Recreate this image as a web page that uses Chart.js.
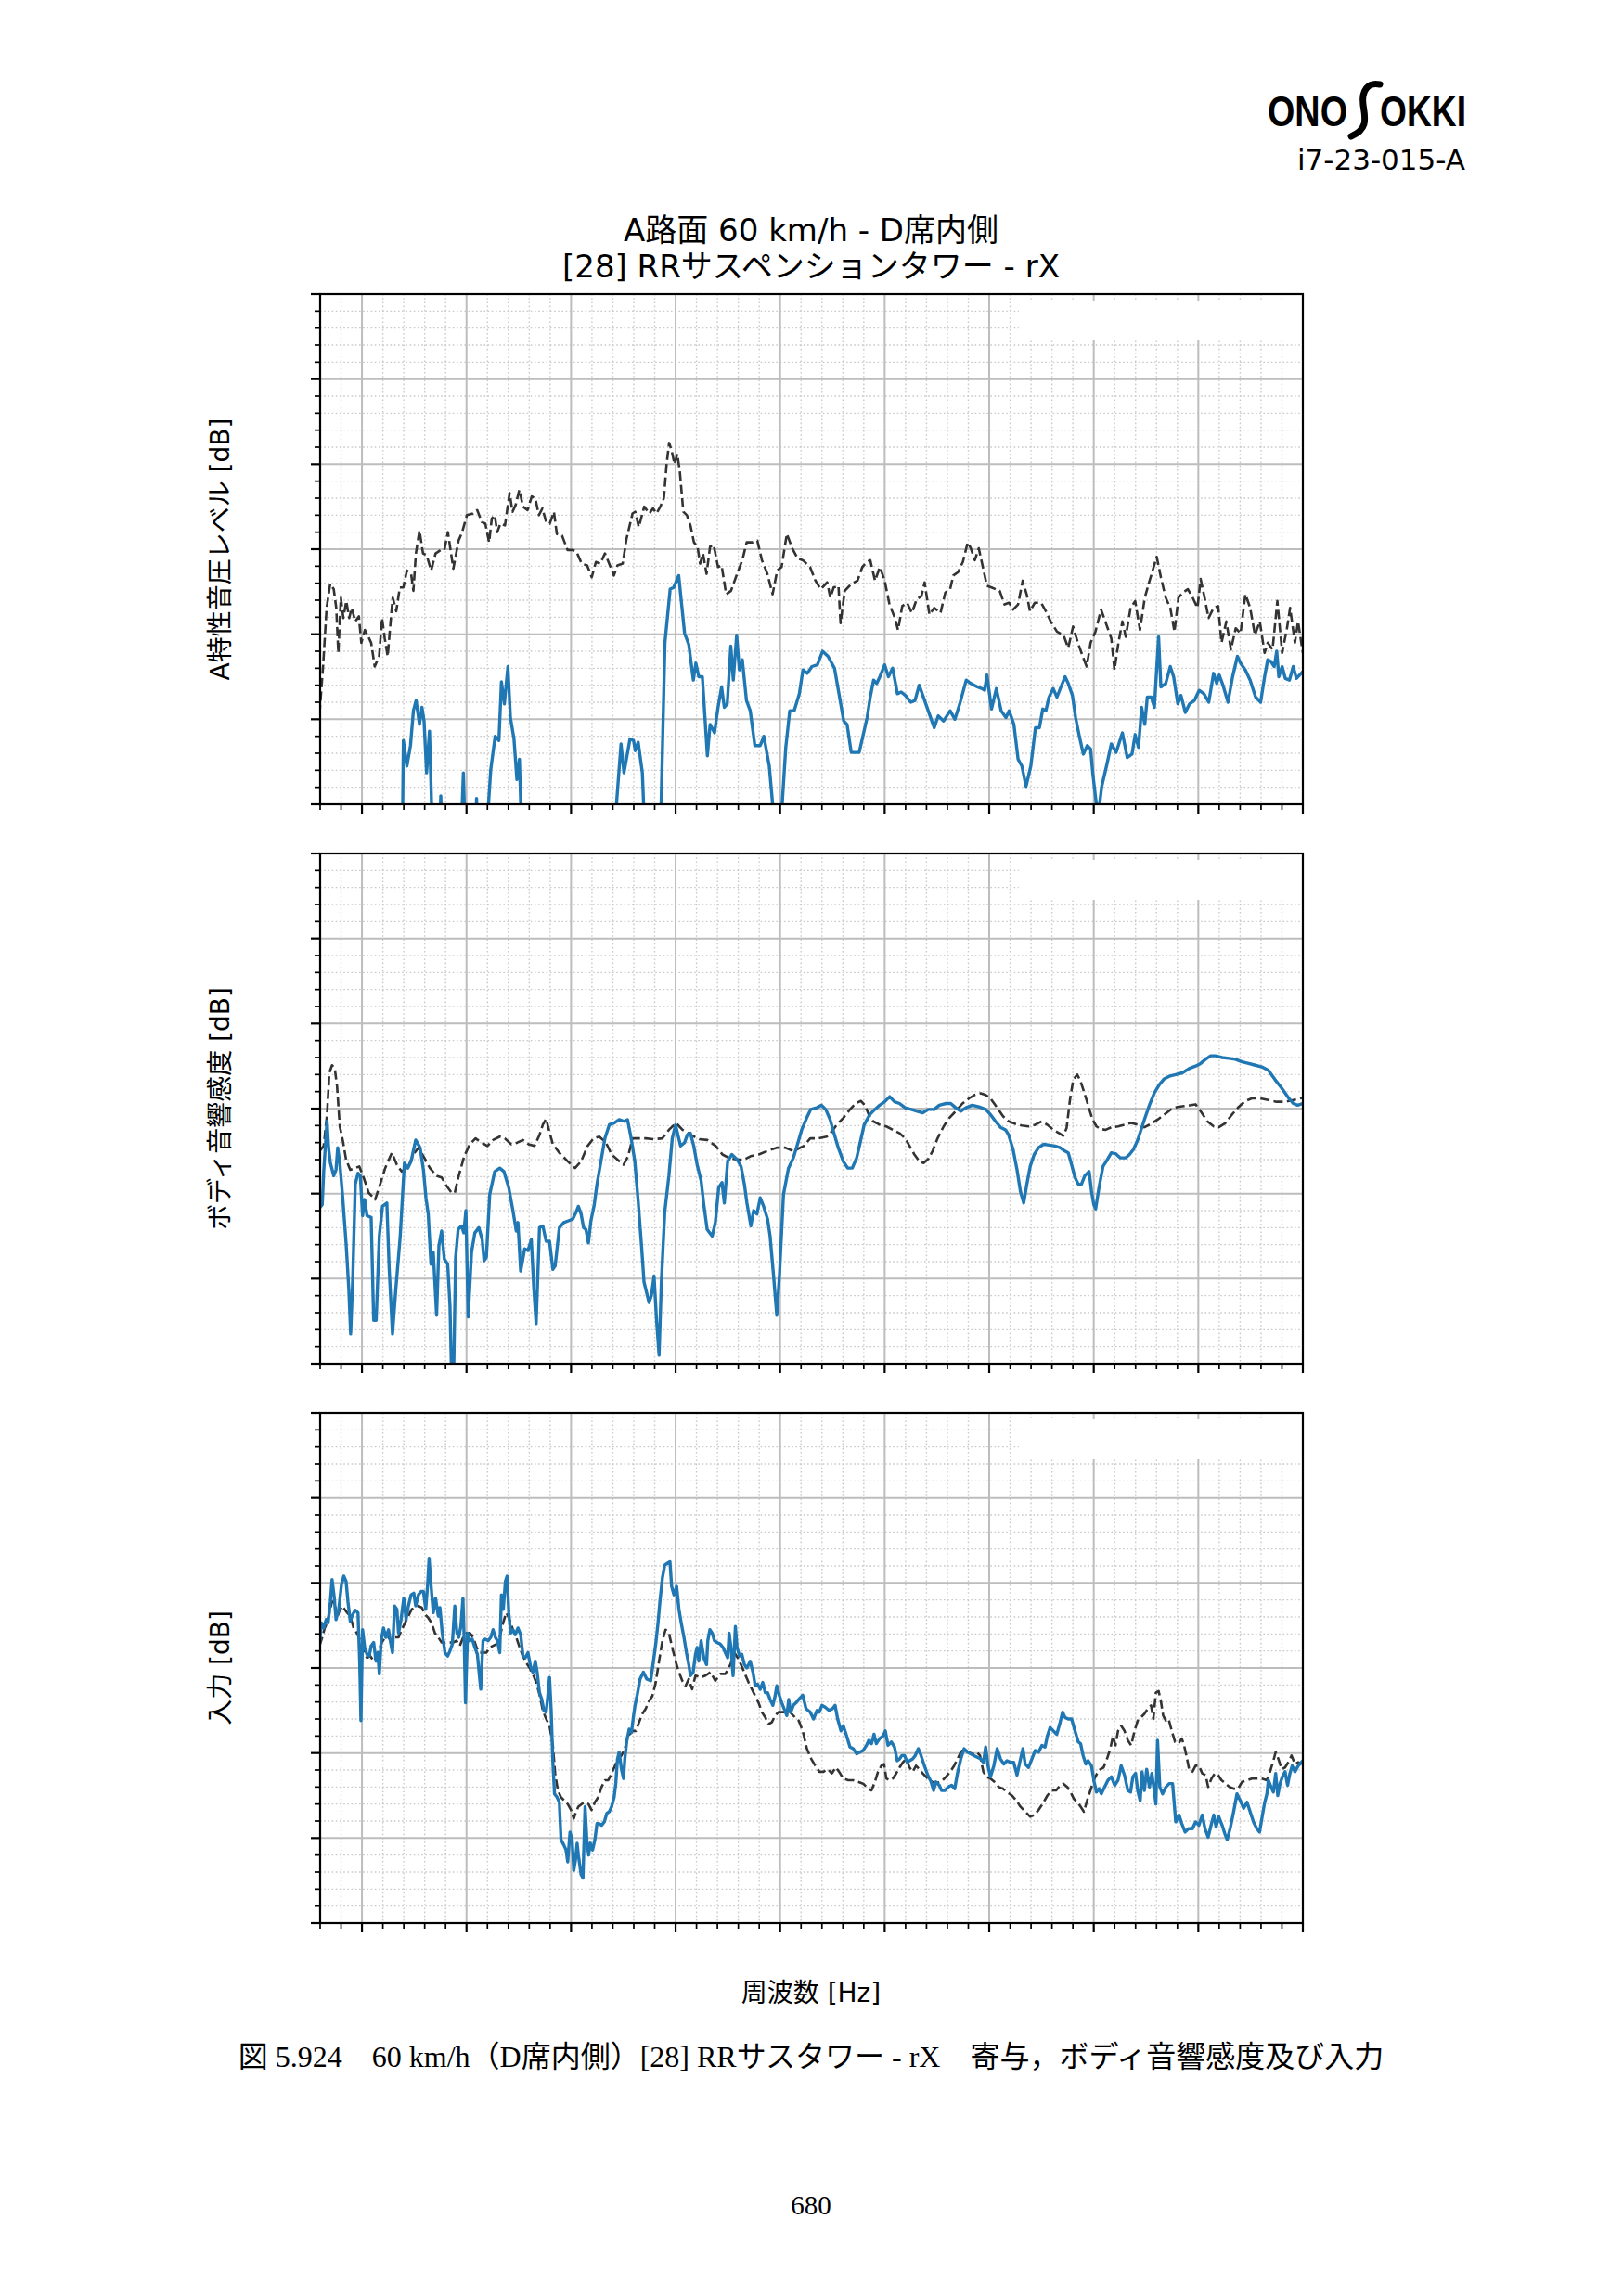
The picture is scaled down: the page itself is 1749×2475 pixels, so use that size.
<!DOCTYPE html>
<html>
<head>
<meta charset="utf-8">
<script src="https://cdn.jsdelivr.net/npm/chart.js@4.4.1/dist/chart.umd.min.js"></script>
<style>
  html, body { margin: 0; padding: 0; background: #fff; }
  #page { position: relative; width: 1749px; height: 2475px; overflow: hidden; background: #fff; }
  .t { position: absolute; white-space: nowrap; line-height: 1; transform: translate(-50%, -50%); color: #000; }
  .sans { font-family: "DejaVu Sans", "Noto Sans CJK JP", sans-serif; }
  .serif { font-family: "Liberation Serif", "DejaVu Serif", "Noto Sans CJK JP", serif; }
  .ylab { transform: translate(-50%, -50%) rotate(-90deg); font-size: 28px; }
  canvas { position: absolute; }
</style>
</head>
<body>
<div id="page">
  <svg style="position:absolute; left:1350px; top:80px" width="260" height="120">
    <text x="16" y="56" font-family="Liberation Sans, DejaVu Sans" font-weight="bold" font-size="46" textLength="86" lengthAdjust="spacingAndGlyphs">ONO</text>
    <path d="M 137 11 C 124 8, 117 18, 119 33 C 121 47, 125 59, 106 67" fill="none" stroke="#000" stroke-width="7" stroke-linecap="round"/>
    <text x="137" y="56" font-family="Liberation Sans, DejaVu Sans" font-weight="bold" font-size="46" textLength="93" lengthAdjust="spacingAndGlyphs">OKKI</text>
    <text x="229" y="103" text-anchor="end" font-family="DejaVu Sans" font-size="31">i7-23-015-A</text>
  </svg>

  <div class="t sans" style="left:874px; top:248px; font-size:34px">A路面 60 km/h - D席内側</div>
  <div class="t sans" style="left:874px; top:287px; font-size:34px">[28] RRサスペンションタワー - rX</div>

  <div class="t sans ylab" style="left:238px; top:592px">A特性音圧レベル [dB]</div>
  <div class="t sans ylab" style="left:238px; top:1195px">ボディ音響感度 [dB]</div>
  <div class="t sans ylab" style="left:238px; top:1798px">入力 [dB]</div>

  <div class="t sans" style="left:874px; top:2149px; font-size:28px">周波数 [Hz]</div>

  <div class="t serif" style="left:874px; top:2217px; font-size:32px">図 5.924　60 km/h（D席内側）[28] RRサスタワー - rX　寄与，ボディ音響感度及び入力</div>
  <div class="t serif" style="left:874px; top:2377px; font-size:29px">680</div>

  <canvas id="c1" width="1099" height="590" style="left:325px; top:297px"></canvas>
  <canvas id="c2" width="1099" height="590" style="left:325px; top:900px"></canvas>
  <canvas id="c3" width="1099" height="590" style="left:325px; top:1503px"></canvas>
</div>

<script>
// === Data: [frequency Hz, level dB] ===
// panel 1 : A特性音圧レベル (dashed = total, solid = contribution)
const levelTotal = [
  [29.7,10.6],[31.4,16.2],[33.1,23.1],[34.8,25.9],[36.5,25.3],[37.7,23.1],[38.7,17.8],[39.9,24.3],[41.1,21.9],[42.5,23.9],
  [43.9,21.9],[45.1,23.1],[46.8,21.5],[48.5,22.1],[49.7,19.0],[51.4,20.5],[52.7,19.9],[54.4,19.0],[56.1,16.2],[58.2,17.4],
  [59.6,21.9],[60.9,19.5],[62.3,17.4],[63.3,20.3],[64.7,24.3],[66.4,22.7],[68.1,25.5],[69.8,25.5],[71.5,27.5],[73.5,27.1],
  [74.6,25.1],[75.8,29.5],[77.5,32.2],[79.2,29.5],[80.9,29.3],[83.1,27.5],[85.2,29.5],[87.7,29.9],[89.4,29.9],[91.1,32.0],
  [93.7,27.7],[96.2,31.0],[97.9,32.0],[100.2,34.0],[103.1,34.2],[105.1,34.6],[107.3,33.2],[109.0,33.0],[110.8,30.8],[112.1,33.6],
  [113.5,34.0],[114.7,32.0],[116.2,33.0],[118.4,32.8],[120.6,36.6],[122.0,34.4],[123.5,35.2],[125.3,37.0],[127.0,35.0],[129.2,34.6],
  [131.2,36.2],[132.9,36.0],[134.6,34.0],[136.3,34.8],[138.1,33.2],[139.8,33.0],[141.8,34.4],[143.2,31.8],[145.7,31.6],[148.3,29.9],
  [150.9,29.9],[152.6,29.7],[155.1,28.3],[157.7,28.1],[159.9,26.7],[161.9,28.5],[164.0,28.3],[166.2,29.5],[167.9,28.5],[170.5,26.9],
  [172.2,28.1],[174.7,28.3],[176.5,31.2],[179.4,34.2],[180.7,34.4],[182.4,32.6],[185.0,35.0],[187.5,34.2],[189.2,34.8],[190.9,34.2],
  [192.7,35.0],[194.4,36.0],[195.7,40.0],[196.9,42.5],[198.1,41.6],[199.5,40.0],[200.8,41.2],[202.0,39.2],[203.7,34.4],[205.4,34.0],
  [207.1,32.8],[208.8,30.8],[210.5,30.3],[211.7,28.3],[213.1,29.5],[214.8,27.1],[216.5,30.3],[218.2,30.5],[220.3,27.9],[222.0,28.1],
  [224.2,24.7],[226.5,25.1],[229.4,27.1],[231.9,28.7],[234.0,30.8],[236.7,30.8],[239.1,31.0],[241.3,28.7],[243.9,27.1],[246.4,24.7],
  [248.6,27.5],[250.7,27.9],[253.2,31.8],[255.8,30.1],[258.4,28.9],[260.9,28.7],[264.3,27.9],[266.9,26.3],[269.4,25.3],[270.2,25.5],
  [272.5,26.1],[274.0,24.3],[275.6,25.5],[277.9,25.7],[278.9,21.3],[280.9,25.1],[284.0,25.9],[287.0,26.3],[289.3,27.9],[291.6,28.5],
  [293.1,28.7],[295.4,26.3],[297.7,27.9],[300.0,26.3],[302.3,23.5],[304.6,22.1],[306.4,20.5],[308.4,23.3],[310.7,23.7],[313.0,22.5],
  [315.3,24.1],[317.6,24.5],[319.1,26.1],[321.4,22.3],[323.7,23.1],[326.7,22.5],[329.0,24.9],[331.3,25.3],[332.8,26.9],[335.1,27.3],
  [337.4,28.5],[339.7,30.8],[341.2,30.1],[343.1,28.7],[345.0,30.1],[346.6,28.3],[348.9,25.7],[351.1,25.5],[355.0,25.1],[357.3,23.5],
  [359.5,23.7],[361.4,22.9],[363.8,23.5],[366.0,26.3],[367.9,24.7],[369.5,22.7],[371.8,23.7],[374.8,23.7],[377.1,22.7],[379.4,21.5],
  [382.4,20.3],[385.5,19.9],[387.8,18.4],[390.1,20.9],[392.4,19.0],[394.7,17.4],[396.6,16.2],[398.5,19.0],[400.8,20.3],[403.5,22.9],
  [406.1,21.1],[408.4,19.5],[409.9,15.8],[411.8,19.0],[413.7,21.5],[415.3,19.7],[417.6,23.1],[419.8,23.9],[422.1,20.5],[424.4,24.3],
  [426.7,26.3],[430.1,29.1],[432.1,26.7],[434.4,24.3],[436.6,23.1],[438.6,20.3],[440.5,24.3],[442.7,24.9],[445.0,25.3],[447.3,24.3],
  [449.6,23.1],[451.1,26.5],[453.0,24.3],[454.9,21.9],[457.3,23.1],[459.5,23.3],[461.1,19.0],[463.4,21.5],[465.6,18.2],[467.9,20.7],
  [470.2,20.1],[472.5,24.7],[474.8,23.1],[477.1,19.9],[479.4,21.5],[481.7,17.8],[483.2,19.0],[485.5,18.2],[487.8,23.9],[490.1,17.8],
  [492.4,20.7],[493.9,23.1],[496.2,19.0],[497.7,21.5],[500.0,17.8]
];
const levelContrib = [
  [29.7,-5],[69.3,-5],[69.8,7.5],[71.5,4.5],[73.2,6.9],[74.6,11.0],[75.9,12.2],[77.5,9.4],[78.7,11.4],[79.7,9.8],
  [80.9,3.7],[82.3,8.6],[83.6,-3],[87.2,-3],[87.7,1.0],[88.2,-3],[97.5,-3],[98.5,3.7],[99.3,-3],[104.4,-3],
  [104.8,0.7],[105.2,-3],[109.7,-3],[111.6,4.1],[113.7,8.0],[115.5,7.5],[116.7,14.4],[118.1,11.8],[119.8,16.2],[121.0,10.2],
  [122.7,7.7],[124.1,2.9],[125.3,5.3],[126.3,-3],[170.8,-3],[173.9,7.1],[175.3,3.7],[178.2,7.7],[179.9,7.5],[180.7,6.3],
  [182.1,7.3],[184.1,3.7],[185.2,-3],[192.8,-3],[194.9,19.0],[197.4,25.3],[199.1,25.5],[201.5,26.9],[202.9,23.5],[204.3,20.1],
  [206.3,18.8],[208.5,14.6],[209.7,16.6],[211.1,15.0],[212.8,15.0],[215.2,5.7],[216.5,9.4],[218.6,8.4],[220.3,11.4],[222.0,13.8],
  [223.3,11.4],[224.7,11.8],[226.4,18.6],[227.6,14.6],[229.2,19.9],[230.5,15.8],[231.9,17.0],[233.9,12.2],[235.7,11.0],[237.9,6.9],
  [240.5,6.9],[242.2,8.0],[244.8,4.5],[247.5,-3],[250.2,-3],[252.7,6.7],[254.6,11.0],[256.7,11.0],[259.2,13.0],[260.9,15.8],
  [263.0,15.4],[265.2,16.2],[267.8,16.4],[270.3,18.0],[272.9,17.4],[276.0,16.0],[278.0,13.2],[280.4,9.8],[282.0,9.4],[284.0,6.1],
  [287.8,6.1],[289.3,7.7],[291.6,10.2],[293.1,12.6],[294.7,14.6],[296.2,14.2],[297.7,15.0],[300.0,16.4],[301.8,15.0],[303.8,16.0],
  [306.1,13.0],[307.9,13.2],[309.9,12.8],[312.5,12.0],[314.5,12.2],[316.5,14.0],[319.1,12.2],[321.4,10.6],[323.7,9.0],[325.6,10.4],
  [328.2,9.8],[331.3,11.0],[333.6,10.0],[335.9,11.8],[339.0,14.6],[341.2,14.2],[344.3,13.8],[346.6,13.6],[347.8,13.4],[348.9,15.2],
  [351.1,11.2],[353.4,13.6],[355.7,11.0],[358.0,10.2],[359.5,11.0],[361.8,9.4],[363.8,5.3],[365.6,4.5],[367.6,2.1],[369.9,4.5],
  [372.1,9.0],[374.0,9.0],[375.6,11.2],[377.1,11.0],[378.6,12.6],[380.6,13.6],[382.4,12.6],[384.3,13.8],[386.3,15.0],[387.8,14.2],
  [389.8,12.8],[391.3,10.2],[393.1,8.0],[395.0,5.9],[396.9,6.9],[398.5,6.5],[399.5,3.7],[401.1,0.3],[402.3,-1],[403.8,2.1],
  [406.1,4.5],[408.4,7.1],[410.7,6.1],[413.7,8.4],[416.0,5.5],[418.3,5.9],[419.8,8.2],[421.4,6.7],[422.9,11.4],[424.4,9.4],
  [425.6,12.6],[427.5,12.6],[429.0,11.4],[431.0,19.7],[432.1,13.8],[434.4,14.2],[436.6,16.2],[438.2,15.0],[440.2,11.8],[441.7,12.8],
  [443.8,10.8],[445.8,11.8],[448.1,12.2],[450.4,13.4],[452.7,13.0],[455.0,12.0],[457.3,15.4],[458.8,14.2],[460.0,15.2],[461.8,14.0],
  [464.2,12.0],[466.4,15.0],[468.7,17.4],[470.2,16.6],[472.5,15.8],[474.8,14.6],[477.4,12.6],[479.8,12.0],[481.7,15.0],[483.2,17.0],
  [484.7,16.8],[486.3,16.2],[487.5,18.0],[488.5,15.0],[490.1,16.2],[491.6,14.8],[493.6,14.6],[495.4,16.2],[496.9,14.8],[500.0,15.6]
];

// panel 2 : ボディ音響感度 (dashed = reference, solid = this path)
const sensAvg = [
  [29.7,25.0],[31.7,25.6],[33.3,29.3],[34.4,34.2],[35.7,35.1],[37.0,34.7],[38.1,32.6],[39.4,27.9],[40.8,26.3],[42.4,24.0],
  [44.4,22.8],[46.8,23.0],[48.7,23.2],[50.8,21.9],[53.2,20.1],[56.3,19.3],[58.7,21.1],[61.1,23.0],[64.3,24.8],[66.7,23.4],
  [69.0,22.6],[72.2,23.2],[74.6,24.6],[77.0,25.4],[79.4,24.4],[82.5,23.0],[85.7,22.1],[88.1,21.9],[90.5,20.9],[92.9,20.1],
  [94.4,20.1],[96.3,22.1],[98.9,24.4],[101.6,25.8],[104.3,26.5],[107.1,26.0],[110.0,25.6],[112.7,26.3],[115.9,26.7],[118.3,26.5],
  [121.4,25.8],[124.3,26.0],[127.0,26.3],[129.7,25.8],[132.5,25.6],[134.9,26.9],[136.5,28.1],[138.1,28.8],[139.2,27.7],[141.3,25.8],
  [144.4,24.8],[148.4,23.8],[151.9,23.0],[154.8,23.8],[157.9,25.6],[160.8,26.5],[163.5,26.7],[166.7,26.0],[169.4,24.6],[172.2,24.0],
  [175.1,23.4],[177.3,24.4],[179.4,26.5],[181.7,26.5],[185.7,26.5],[189.7,26.4],[193.7,26.5],[196.8,27.5],[200.2,28.3],[203.3,27.5],
  [207.3,26.9],[211.3,26.4],[215.2,26.3],[219.2,25.6],[222.4,24.6],[225.6,24.2],[229.5,24.0],[232.7,24.0],[235.9,24.4],[239.8,24.6],
  [243.7,25.0],[248.4,25.4],[252.4,25.4],[256.3,25.0],[261.3,25.6],[264.4,26.5],[268.4,26.5],[272.3,26.7],[274.7,27.3],[277.1,28.1],
  [280.2,28.9],[283.4,29.9],[286.1,30.6],[288.6,30.9],[290.5,30.4],[292.4,29.3],[294.5,28.5],[297.6,28.1],[300.8,27.9],[303.9,27.5],
  [307.1,27.1],[309.8,26.5],[311.9,25.6],[314.2,24.6],[316.6,23.8],[318.7,23.6],[320.9,24.1],[322.9,25.0],[325.3,26.5],[328.2,27.9],
  [330.9,28.9],[334.0,29.7],[337.2,30.6],[340.3,31.2],[343.0,31.6],[345.9,31.8],[348.3,31.6],[350.6,31.2],[353.8,30.1],[356.6,29.1],
  [359.3,28.5],[362.5,28.2],[365.6,28.0],[368.8,27.9],[372.0,28.1],[375.1,28.5],[377.8,28.1],[380.7,27.5],[383.5,27.1],[385.4,26.8],
  [387.0,27.7],[388.6,31.0],[390.2,33.4],[392.1,34.0],[393.7,33.2],[395.3,32.0],[397.3,30.4],[399.4,28.7],[401.3,27.9],[403.2,27.6],
  [405.7,27.5],[408.4,27.8],[411.6,27.9],[414.7,28.1],[417.9,28.3],[421.0,28.1],[424.2,27.8],[427.4,28.2],[430.5,28.7],[433.7,29.3],
  [436.9,29.9],[440.0,30.2],[443.2,30.3],[446.4,30.4],[448.7,30.5],[451.1,29.7],[454.3,28.5],[457.4,27.9],[459.8,27.8],[463.0,28.3],
  [466.1,29.3],[469.3,30.2],[472.5,30.9],[475.6,31.2],[479.6,31.2],[483.5,31.0],[487.5,30.8],[491.5,30.8],[495.4,31.0],[500.0,31.3]
];
const sensPath = [
  [29.7,18.3],[31.0,18.7],[31.7,22.6],[32.5,25.6],[33.3,28.5],[34.1,25.2],[34.9,23.6],[36.5,22.1],[37.6,22.8],[38.4,25.4],
  [39.4,23.6],[40.8,19.5],[42.4,14.2],[43.7,8.8],[44.6,3.5],[45.6,10.0],[46.8,21.1],[48.1,22.4],[49.2,22.1],[50.3,17.4],
  [51.3,19.3],[52.4,17.4],[54.4,17.2],[55.6,5.1],[56.8,5.1],[58.3,15.0],[59.8,18.5],[61.9,18.9],[63.0,11.3],[64.6,3.5],
  [66.2,8.8],[68.3,15.0],[70.3,23.6],[71.9,23.0],[73.5,23.8],[75.7,26.3],[77.8,25.4],[79.4,22.8],[80.6,19.5],[81.7,17.6],
  [83.0,11.7],[84.1,13.1],[85.7,5.7],[86.8,13.9],[88.1,15.6],[89.4,12.3],[91.0,11.7],[92.1,6.8],[92.9,-2],[93.8,-2],
  [94.8,12.5],[96.0,15.8],[97.6,16.2],[98.7,15.4],[99.7,18.0],[100.8,5.5],[102.4,13.1],[104.0,15.4],[105.9,16.0],[107.5,14.6],
  [108.4,12.1],[109.5,12.5],[111.1,19.9],[113.5,22.6],[115.9,23.0],[117.9,22.6],[120.2,20.7],[122.2,18.0],[123.8,15.6],[124.6,16.6],
  [125.9,10.9],[127.8,13.5],[129.4,13.3],[131.0,14.6],[132.2,8.8],[133.3,4.7],[134.9,16.0],[136.5,16.2],[138.1,14.4],[139.7,14.4],
  [141.3,11.1],[142.4,11.5],[144.4,16.0],[146.5,16.6],[148.7,16.8],[150.8,17.0],[152.4,17.8],[153.5,18.5],[154.8,17.6],[156.0,16.0],
  [157.1,15.8],[158.3,14.2],[159.5,16.8],[161.1,18.7],[162.4,21.1],[164.3,23.8],[166.2,26.5],[168.3,28.1],[170.6,28.3],[173.0,28.7],
  [175.4,28.5],[177.0,28.7],[178.6,26.7],[180.5,23.8],[182.1,19.1],[183.7,13.9],[184.9,9.6],[187.3,7.2],[188.4,8.0],[189.7,10.3],
  [190.9,5.1],[192.1,1.0],[193.2,9.6],[194.8,17.8],[196.8,22.1],[198.4,26.5],[200.0,28.1],[201.1,26.9],[202.4,25.6],[204.3,26.0],
  [205.6,26.9],[207.1,27.1],[208.7,25.6],[210.3,23.4],[212.2,21.5],[213.5,18.7],[215.1,15.8],[217.5,15.0],[219.0,16.6],[220.6,20.7],
  [222.2,21.3],[223.3,18.9],[224.9,23.8],[226.9,24.6],[229.4,24.0],[231.3,23.2],[232.9,21.1],[234.1,18.9],[236.0,16.2],[237.3,18.0],
  [238.9,17.6],[240.5,19.5],[242.1,18.5],[244.0,17.0],[245.2,15.0],[246.8,10.5],[248.4,5.7],[249.7,10.5],[251.6,19.9],[254.0,23.0],
  [256.3,24.2],[258.3,25.8],[260.3,27.5],[262.7,28.9],[264.6,29.9],[267.5,30.1],[269.8,30.4],[271.8,29.9],[273.9,28.7],[276.0,26.9],
  [277.8,25.4],[280.2,23.8],[282.3,23.0],[284.5,23.0],[286.6,24.2],[288.1,25.8],[290.2,28.1],[292.9,29.3],[295.3,29.9],[297.6,30.4],
  [300.0,30.8],[302.4,31.4],[304.7,30.8],[307.1,30.6],[309.8,30.1],[312.7,29.9],[315.5,29.7],[318.2,29.5],[320.9,29.9],[323.7,29.9],
  [326.1,30.4],[329.3,30.6],[331.6,30.6],[334.0,30.1],[336.4,29.7],[338.8,30.1],[341.9,30.4],[345.1,30.2],[348.3,29.9],[350.6,29.3],
  [353.0,28.5],[355.4,27.8],[357.8,27.5],[359.3,26.9],[361.4,25.2],[363.3,22.8],[364.9,20.3],[366.5,18.9],[368.0,21.1],[369.6,23.2],
  [371.5,24.6],[373.6,25.4],[376.0,25.8],[378.8,25.7],[381.5,25.6],[383.9,25.4],[386.2,25.0],[387.8,24.8],[389.4,23.4],[391.0,21.9],
  [392.6,21.1],[394.1,21.1],[395.7,22.1],[397.8,22.6],[398.9,20.3],[400.0,18.7],[400.9,18.2],[402.5,20.7],[404.4,23.2],[406.0,23.8],
  [408.4,24.8],[410.4,24.7],[412.7,24.2],[415.2,24.2],[417.1,24.6],[419.0,25.2],[421.0,26.3],[422.6,27.5],[424.2,28.7],[426.6,30.4],
  [428.9,31.8],[431.3,32.8],[433.7,33.5],[436.1,33.8],[439.2,34.0],[442.4,34.2],[445.6,34.7],[448.7,35.0],[451.1,35.3],[453.5,35.8],
  [455.9,36.2],[458.2,36.2],[461.4,36.0],[464.6,35.9],[467.7,35.8],[470.9,35.5],[474.1,35.3],[477.2,35.1],[480.4,34.9],[483.5,34.5],
  [486.7,33.4],[489.9,32.4],[493.0,31.3],[495.4,30.6],[497.5,30.4],[500.0,30.6]
];

// panel 3 : 入力 (dashed = reference, solid = this path)
const inputAvg = [
  [29.7,32.6],[31.0,33.6],[32.2,34.7],[33.3,35.3],[34.4,36.5],[35.7,37.8],[37.0,37.8],[38.1,35.9],[39.2,36.7],[40.5,37.3],
  [41.7,36.9],[42.9,36.5],[44.4,36.1],[46.0,34.7],[47.6,34.1],[49.2,33.2],[50.8,32.0],[52.4,31.2],[54.0,31.4],[55.6,30.8],
  [56.7,31.2],[57.9,32.0],[59.5,33.0],[61.1,33.6],[62.7,33.6],[64.3,33.0],[65.9,33.6],[67.5,33.6],[69.0,34.5],[70.6,35.3],
  [72.2,36.1],[73.8,36.9],[75.4,37.1],[77.0,37.3],[78.6,37.1],[80.2,36.3],[81.7,35.9],[83.3,35.3],[84.9,34.1],[86.5,33.6],
  [88.1,33.0],[89.7,33.0],[91.6,33.0],[93.7,33.0],[95.2,33.2],[96.8,32.6],[98.4,33.6],[100.0,34.1],[101.6,34.1],[103.2,33.6],
  [104.8,32.4],[106.3,31.8],[107.9,31.8],[109.5,31.8],[111.1,32.4],[112.7,32.6],[114.3,32.8],[115.9,33.6],[117.5,35.3],[119.0,36.5],
  [120.6,35.7],[122.2,34.5],[123.8,33.6],[125.4,32.4],[127.0,31.4],[128.6,30.6],[130.2,30.0],[131.7,29.3],[133.3,28.3],[134.9,26.9],
  [136.5,25.0],[138.1,24.0],[139.7,23.2],[141.3,20.9],[142.4,17.6],[143.7,15.6],[145.2,14.8],[146.8,14.4],[148.4,14.0],[150.0,13.3],
  [151.3,12.3],[152.4,13.1],[153.5,13.7],[155.1,14.0],[156.7,14.2],[158.3,14.0],[159.8,13.3],[161.4,14.2],[163.0,14.8],[164.6,16.0],
  [166.2,16.8],[167.8,16.8],[169.4,17.6],[171.0,18.5],[172.5,19.3],[174.1,19.7],[175.7,20.5],[177.3,22.0],[179.4,22.6],[181.0,22.6],
  [182.5,23.6],[184.1,24.6],[185.7,25.2],[187.3,26.1],[188.9,26.7],[190.5,28.3],[192.1,30.8],[193.7,33.2],[195.2,34.5],[196.8,34.1],
  [198.4,32.4],[200.0,30.8],[201.6,29.5],[203.2,28.5],[204.8,27.9],[206.3,28.7],[207.9,27.5],[209.5,29.1],[211.9,28.9],[214.3,29.1],
  [216.7,29.5],[219.0,28.5],[221.4,29.3],[223.8,29.3],[226.2,30.4],[228.1,31.8],[230.2,31.0],[232.5,29.7],[234.9,28.3],[237.3,27.1],
  [239.7,25.9],[241.3,24.8],[242.9,24.2],[244.4,23.4],[246.0,23.6],[247.6,24.4],[249.2,24.8],[251.6,24.8],[254.0,25.0],[256.3,24.4],
  [258.9,23.8],[260.8,22.6],[262.8,20.5],[264.9,19.3],[266.8,18.5],[268.7,17.8],[270.7,17.8],[272.8,18.1],[274.7,17.6],[276.6,18.3],
  [278.2,17.8],[280.2,17.0],[282.6,16.8],[285.0,16.8],[287.3,16.6],[289.7,16.4],[292.1,15.8],[293.7,15.6],[295.3,16.6],[296.8,17.8],
  [298.4,18.5],[299.7,18.7],[300.8,17.0],[302.4,16.8],[303.9,17.0],[305.5,17.6],[307.1,18.3],[308.7,18.9],[310.3,19.3],[311.9,18.3],
  [313.4,17.8],[315.0,18.5],[316.6,18.1],[318.2,17.6],[319.8,17.2],[321.4,16.8],[322.9,16.6],[324.5,16.4],[326.1,16.6],[327.7,16.8],
  [329.3,17.2],[331.3,17.8],[333.2,18.5],[334.8,19.3],[336.4,20.1],[338.0,20.5],[339.9,20.1],[341.9,19.9],[344.0,20.1],[345.6,19.7],
  [347.2,17.8],[348.7,17.2],[350.6,17.0],[352.5,16.6],[354.6,16.0],[356.6,15.8],[358.5,15.4],[360.9,15.0],[363.0,14.4],[364.9,13.7],
  [367.2,13.1],[369.6,12.5],[371.5,12.7],[373.6,13.3],[376.0,14.2],[377.8,15.0],[379.9,15.6],[382.0,15.6],[383.9,16.2],[385.4,16.4],
  [387.3,16.0],[388.9,15.4],[390.5,14.6],[392.1,14.2],[393.7,13.7],[395.3,13.1],[396.8,14.4],[398.4,15.6],[400.0,16.8],[401.6,17.6],
  [403.2,18.1],[404.7,18.3],[406.3,19.3],[407.9,20.5],[409.2,22.0],[410.4,20.9],[411.6,22.6],[413.1,23.2],[414.7,22.6],[416.3,21.5],
  [417.9,20.9],[419.5,22.6],[421.0,23.8],[422.6,24.2],[424.2,24.6],[425.8,25.2],[427.4,25.6],[428.5,24.0],[429.7,27.1],[431.0,27.3],
  [432.1,26.1],[433.2,24.4],[434.5,23.8],[435.8,24.0],[437.3,22.6],[438.9,21.3],[440.5,21.1],[442.1,21.7],[443.2,20.9],[444.3,19.7],
  [445.6,18.1],[447.2,17.8],[448.7,18.5],[450.3,18.5],[451.9,17.6],[453.5,17.4],[454.7,16.0],[456.3,17.0],[457.9,17.6],[459.5,17.4],
  [461.1,16.8],[463.0,16.4],[464.9,16.0],[467.0,15.8],[469.0,15.8],[470.9,16.6],[473.3,16.8],[475.6,17.0],[478.0,17.0],[480.4,17.0],
  [482.8,16.8],[484.3,17.8],[485.9,19.1],[487.0,20.1],[488.3,19.3],[489.9,18.1],[491.5,18.3],[493.0,18.9],[494.6,19.7],[496.2,18.7],
  [497.8,18.9],[500.0,18.7]
];
const inputPath = [
  [29.7,32.8],[30.6,35.3],[31.7,34.7],[32.9,35.7],[33.8,35.3],[34.9,37.8],[35.7,40.4],[36.7,38.4],[37.6,35.7],[38.9,36.9],
  [40.2,39.8],[41.3,40.8],[42.4,40.2],[43.3,37.8],[44.4,35.5],[45.6,36.3],[46.8,36.8],[48.1,36.5],[48.9,30.8],[49.5,23.8],
  [50.3,34.5],[51.3,32.4],[52.4,31.6],[53.5,31.4],[54.4,32.6],[55.6,33.0],[56.7,30.8],[57.6,31.8],[58.3,29.3],[59.2,33.2],
  [60.3,34.7],[61.4,33.6],[62.7,34.5],[63.7,33.0],[64.6,31.8],[65.6,37.3],[66.7,36.9],[67.5,34.1],[68.7,35.7],[70.0,38.2],
  [71.1,35.7],[72.2,37.3],[73.5,38.6],[74.8,38.8],[75.7,37.3],[77.0,38.6],[78.3,39.0],[79.4,39.0],[80.5,36.9],[81.4,39.8],
  [82.1,42.9],[83.0,39.8],[84.1,36.5],[85.2,38.2],[86.5,36.1],[87.3,37.1],[88.4,34.1],[89.7,31.8],[91.0,31.4],[92.1,32.0],
  [93.2,32.8],[94.4,37.3],[95.4,34.1],[96.3,33.6],[97.3,34.9],[98.3,38.2],[98.9,33.2],[99.5,25.9],[100.5,34.1],[101.6,33.2],
  [102.7,33.4],[104.0,32.4],[105.2,31.6],[106.0,29.5],[106.8,27.5],[107.9,33.2],[109.0,33.4],[110.3,33.2],[111.6,33.6],[112.7,34.5],
  [113.8,33.6],[114.8,33.2],[115.9,31.8],[116.7,38.6],[117.6,36.9],[118.6,40.2],[119.4,40.8],[120.2,36.5],[121.1,34.1],[122.2,34.5],
  [123.3,33.9],[124.6,34.7],[125.9,33.9],[127.0,31.4],[128.1,31.2],[129.4,31.8],[130.6,30.2],[131.7,29.5],[132.9,30.8],[133.8,29.5],
  [134.9,27.1],[136.0,26.3],[137.0,25.0],[138.1,24.8],[138.9,26.7],[139.7,28.9],[140.5,25.0],[141.3,18.9],[142.1,15.2],[143.3,14.8],
  [144.4,14.2],[145.2,9.8],[146.5,9.2],[147.6,8.6],[148.4,7.2],[149.5,10.7],[150.5,9.8],[151.3,6.2],[152.1,7.4],[152.9,9.4],
  [153.5,8.0],[154.8,5.7],[155.7,5.3],[156.7,13.7],[157.6,9.6],[158.4,8.0],[159.2,9.4],[160.3,8.6],[161.4,9.8],[162.4,11.7],
  [163.5,11.7],[164.6,11.5],[165.9,11.9],[167.1,12.9],[168.3,13.1],[169.4,13.7],[170.6,14.8],[171.4,16.4],[172.2,19.3],[173.0,20.1],
  [174.1,18.1],[175.1,17.0],[175.7,19.3],[176.7,21.5],[177.8,22.8],[178.9,22.4],[179.8,24.2],[180.6,25.6],[181.7,26.9],[183.0,28.7],
  [184.6,29.5],[186.2,28.7],[188.1,28.5],[189.4,30.8],[190.5,32.8],[191.6,35.3],[192.5,37.8],[193.7,40.6],[194.8,42.1],[196.0,42.3],
  [197.3,42.5],[198.1,39.6],[199.2,38.6],[200.5,39.6],[201.6,36.9],[202.7,35.3],[204.0,33.6],[205.2,31.8],[206.3,30.4],[207.1,29.1],
  [208.4,29.5],[209.5,31.6],[210.3,32.4],[211.1,30.8],[212.2,33.2],[213.5,31.2],[214.8,30.4],[215.4,33.2],[216.4,34.5],[217.5,34.1],
  [218.6,33.2],[219.8,33.0],[221.4,32.8],[222.7,32.4],[223.8,31.8],[224.9,31.2],[225.6,34.1],[226.5,32.4],[227.5,29.1],[228.6,34.9],
  [229.4,32.4],[230.6,31.4],[231.7,31.6],[232.9,30.4],[234.1,30.0],[235.7,30.8],[237.0,29.5],[238.1,27.9],[239.2,28.1],[240.5,27.5],
  [241.7,28.3],[242.9,27.1],[244.0,27.1],[245.2,26.3],[246.5,25.6],[247.6,26.7],[248.4,27.9],[249.7,26.7],[250.8,25.9],[251.9,25.2],
  [253.2,24.4],[254.1,26.3],[255.1,24.8],[256.3,25.6],[257.6,25.9],[258.9,26.3],[260.8,26.8],[262.4,25.2],[264.4,24.8],[266.0,24.0],
  [267.6,25.0],[268.7,24.8],[270.0,25.6],[271.5,25.4],[273.4,25.0],[275.0,25.2],[276.3,25.6],[277.5,24.0],[279.1,22.6],[280.2,23.2],
  [281.8,22.0],[283.4,20.7],[285.0,20.5],[286.6,19.9],[288.1,20.1],[289.7,20.3],[291.3,20.9],[292.4,21.5],[293.7,21.1],[294.9,22.2],
  [296.0,21.1],[297.6,21.7],[299.2,22.0],[300.3,22.6],[301.6,20.9],[303.2,21.3],[304.7,20.7],[306.0,19.1],[307.1,19.3],[308.2,19.7],
  [309.5,19.7],[310.8,18.9],[311.9,19.1],[313.4,19.3],[314.6,19.7],[316.1,20.5],[317.4,19.7],[319.0,18.5],[320.6,17.4],[322.2,16.6],
  [323.4,15.6],[324.5,16.6],[326.1,16.2],[327.2,15.6],[328.8,15.6],[330.4,16.0],[332.0,16.2],[333.5,15.8],[334.8,17.6],[336.4,19.3],
  [338.0,20.5],[339.6,20.1],[341.1,19.9],[342.7,19.7],[344.3,19.5],[345.9,19.3],[347.2,18.9],[348.3,20.7],[349.4,18.5],[350.6,17.2],
  [352.2,18.5],[353.8,20.5],[355.4,19.3],[357.0,18.7],[358.5,19.1],[360.1,18.9],[361.7,18.9],[363.3,17.4],[364.6,18.9],[366.1,20.5],
  [367.2,18.7],[368.8,18.3],[370.4,19.3],[372.0,20.3],[373.6,20.1],[375.2,20.9],[376.7,20.7],[377.8,22.0],[379.1,23.0],[380.7,22.6],
  [382.3,22.2],[383.9,23.6],[385.1,24.8],[386.2,24.2],[387.8,24.0],[389.4,24.0],[391.0,22.6],[392.6,21.3],[393.7,21.1],[394.9,19.7],
  [396.2,18.7],[397.3,19.1],[398.9,18.5],[400.2,16.6],[401.3,15.4],[402.5,15.8],[403.6,15.2],[405.2,16.0],[406.8,16.8],[408.4,17.2],
  [410.0,16.2],[411.6,16.8],[413.1,18.5],[414.7,17.4],[416.3,15.6],[417.6,15.4],[418.7,17.2],[420.0,17.6],[421.0,15.6],[422.2,14.4],
  [423.1,17.8],[424.2,15.6],[425.3,18.1],[426.6,16.0],[427.8,17.6],[428.9,15.6],[429.7,14.0],[430.5,21.5],[431.6,16.0],[432.9,15.2],
  [434.5,16.0],[436.1,16.4],[437.7,16.4],[439.2,11.9],[440.8,12.7],[442.1,11.7],[443.7,10.7],[445.3,11.1],[447.2,11.1],[448.7,11.9],
  [450.3,11.5],[451.9,12.7],[453.2,11.1],[454.7,10.1],[456.3,11.7],[457.4,12.7],[458.5,11.3],[459.8,12.5],[461.4,11.5],[462.7,10.5],
  [463.8,9.8],[465.4,11.3],[466.9,13.1],[468.5,15.2],[470.1,14.4],[471.7,13.5],[473.3,14.2],[474.8,13.1],[476.4,11.9],[478.0,11.1],
  [479.3,10.7],[480.4,12.3],[481.6,14.0],[482.8,15.2],[483.5,16.8],[484.8,16.0],[485.9,15.4],[487.0,17.6],[488.0,15.0],[489.1,16.4],
  [490.2,17.2],[491.5,17.8],[492.7,16.2],[493.8,17.6],[494.9,18.5],[496.2,17.8],[497.8,18.5],[500.0,19.1]
];

// === Axis ranges (no tick labels on this figure) ===
const X_MIN = 30, X_MAX = 500, X_MAJOR = 50, X_MINOR = 10;
const Y_MIN = 0, Y_MAX = 60, Y_MAJOR = 10, Y_MINOR = 2;

const BLUE = '#1f77b4';
const DARK = '#333333';
const PAD = 20;

// === Grid, blanked legend area, frame and ticks ===
const panelFrame = {
  id: 'panelFrame',
  beforeDatasetsDraw(chart) {
    const { ctx, chartArea: a, scales: { x, y } } = chart;
    const line = (x1, y1, x2, y2) => { ctx.beginPath(); ctx.moveTo(x1, y1); ctx.lineTo(x2, y2); ctx.stroke(); };
    ctx.save();

    // minor grid (dotted)
    ctx.strokeStyle = '#c9c9c9';
    ctx.lineWidth = 1.4;
    ctx.setLineDash([1.6, 2.6]);
    for (let f = X_MIN; f <= X_MAX; f += X_MINOR) {
      if (f % X_MAJOR === 0) continue;
      const px = x.getPixelForValue(f);
      line(px, a.top, px, a.bottom);
    }
    for (let v = Y_MIN; v <= Y_MAX; v += Y_MINOR) {
      if (v % Y_MAJOR === 0) continue;
      const py = y.getPixelForValue(v);
      line(a.left, py, a.right, py);
    }

    // major grid (solid)
    ctx.setLineDash([]);
    ctx.strokeStyle = '#bdbdbd';
    ctx.lineWidth = 2;
    for (let f = X_MAJOR; f < X_MAX; f += X_MAJOR) {
      const px = x.getPixelForValue(f);
      line(px, a.top, px, a.bottom);
    }
    for (let v = Y_MIN + Y_MAJOR; v < Y_MAX; v += Y_MAJOR) {
      const py = y.getPixelForValue(v);
      line(a.left, py, a.right, py);
    }

    // blanked-out legend box, top right
    ctx.fillStyle = '#ffffff';
    ctx.fillRect(a.left + 753, a.top + 7, a.right - 2 - (a.left + 753), 43);
    ctx.restore();
  },
  afterDatasetsDraw(chart) {
    const { ctx, chartArea: a, scales: { x, y } } = chart;
    const line = (x1, y1, x2, y2) => { ctx.beginPath(); ctx.moveTo(x1, y1); ctx.lineTo(x2, y2); ctx.stroke(); };
    ctx.save();
    ctx.setLineDash([]);
    ctx.strokeStyle = '#000';

    // ticks, outward
    for (let v = Y_MIN; v <= Y_MAX; v += Y_MINOR) {
      const major = v % Y_MAJOR === 0;
      ctx.lineWidth = major ? 2.2 : 1.7;
      const py = y.getPixelForValue(v);
      line(a.left - (major ? 10 : 6), py, a.left, py);
    }
    for (let f = X_MIN; f <= X_MAX; f += X_MINOR) {
      const major = f % X_MAJOR === 0;
      ctx.lineWidth = major ? 2.2 : 1.7;
      const px = x.getPixelForValue(f);
      line(px, a.bottom, px, a.bottom + (major ? 10 : 6));
    }

    // frame
    ctx.lineWidth = 2.2;
    ctx.strokeRect(a.left, a.top, a.right - a.left, a.bottom - a.top);
    ctx.restore();
  }
};

const toXY = arr => arr.map(p => ({ x: p[0], y: p[1] }));

function createPanel(canvasId, solid, dashed) {
  const canvas = document.getElementById(canvasId);
  return new Chart(canvas, {
    type: 'line',
    data: {
      datasets: [
        { data: toXY(solid), borderColor: BLUE, borderWidth: 3.4, order: 0 },
        { data: toXY(dashed), borderColor: DARK, borderWidth: 2.6, borderDash: [10, 4.5], order: 1 }
      ]
    },
    options: {
      responsive: false,
      animation: false,
      devicePixelRatio: 1,
      layout: { padding: PAD },
      elements: {
        point: { radius: 0, hoverRadius: 0 },
        line: { tension: 0, fill: false, borderJoinStyle: 'round', borderCapStyle: 'butt' }
      },
      plugins: {
        legend: { display: false },
        tooltip: { enabled: false }
      },
      events: [],
      scales: {
        x: { type: 'linear', min: X_MIN, max: X_MAX, display: false },
        y: { type: 'linear', min: Y_MIN, max: Y_MAX, display: false }
      }
    },
    plugins: [panelFrame]
  });
}

createPanel('c1', levelContrib, levelTotal);
createPanel('c2', sensPath, sensAvg);
createPanel('c3', inputPath, inputAvg);
</script>
</body>
</html>
